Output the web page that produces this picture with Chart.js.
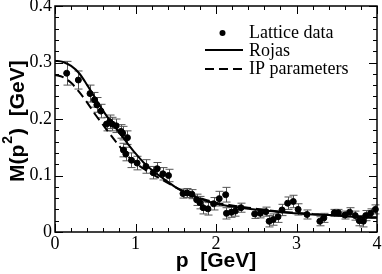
<!DOCTYPE html>
<html>
<head>
<meta charset="utf-8">
<script src="https://cdn.jsdelivr.net/npm/chart.js@4"></script>
<style>
  body { margin: 0; background: #fff; }
  #chart { width: 382px; height: 274px; }
</style>
</head>
<body>
<div id="chart"><canvas id="myChart" width="382" height="274"></canvas></div>
<script>
// lattice points: momentum p, mass M(p^2), error
const latticeP = [0.145, 0.29, 0.435, 0.49, 0.52, 0.57, 0.64, 0.68, 0.71, 0.76, 0.82, 0.84, 0.85, 0.88, 0.90, 0.95,
  1.02, 1.13, 1.22, 1.27, 1.34, 1.41, 1.59, 1.64, 1.70, 1.76, 1.80, 1.84, 1.90, 1.97,
  2.04, 2.12, 2.13, 2.19, 2.24, 2.31, 2.48, 2.55, 2.62, 2.66, 2.71, 2.77, 2.82, 2.89, 2.96,
  3.02, 3.13, 3.29, 3.34, 3.47, 3.52, 3.60, 3.66, 3.73, 3.78, 3.83, 3.86, 3.92, 3.98];
const latticeM = [0.281, 0.269, 0.245, 0.234, 0.225, 0.214, 0.191, 0.195, 0.191, 0.188, 0.178, 0.175, 0.145, 0.138, 0.167, 0.127,
  0.122, 0.116, 0.105, 0.112, 0.103, 0.100, 0.068, 0.069, 0.067, 0.057, 0.052, 0.043, 0.041, 0.050,
  0.059, 0.066, 0.033, 0.035, 0.037, 0.043, 0.032, 0.033, 0.036, 0.019, 0.022, 0.027, 0.039, 0.051, 0.054,
  0.040, 0.031, 0.019, 0.025, 0.034, 0.034, 0.030, 0.035, 0.029, 0.020, 0.019, 0.029, 0.033, 0.040];
const latticeErr = [0.021, 0.016, 0.015, 0.013, 0.013, 0.012, 0.012, 0.012, 0.012, 0.012, 0.012, 0.012, 0.012, 0.012, 0.012, 0.013,
  0.012, 0.012, 0.011, 0.011, 0.011, 0.011, 0.008, 0.008, 0.008, 0.010, 0.011, 0.011, 0.011, 0.011,
  0.013, 0.013, 0.010, 0.009, 0.009, 0.008, 0.008, 0.008, 0.008, 0.010, 0.010, 0.010, 0.010, 0.011, 0.011,
  0.010, 0.008, 0.008, 0.008, 0.006, 0.006, 0.007, 0.008, 0.008, 0.009, 0.010, 0.009, 0.008, 0.008];

// model curves
const curveP = [0, 0.1, 0.2, 0.3, 0.4, 0.5, 0.6, 0.7, 0.8, 0.9, 1.0, 1.1, 1.2, 1.3, 1.4, 1.5, 1.6, 1.7, 1.8, 1.9,
  2.0, 2.2, 2.4, 2.6, 2.8, 3.0, 3.2, 3.4, 3.6, 3.8, 4.0];
const rojasM = [0.303, 0.301, 0.294, 0.281, 0.260, 0.237, 0.214, 0.194, 0.176, 0.157, 0.139, 0.123, 0.110, 0.099, 0.089, 0.079,
  0.071, 0.064, 0.059, 0.054, 0.050, 0.045, 0.041, 0.038, 0.035, 0.033, 0.031, 0.030, 0.028, 0.026, 0.025];
const ipM = [0.278, 0.274, 0.264, 0.248, 0.229, 0.208, 0.189, 0.170, 0.152, 0.135, 0.122, 0.112, 0.103, 0.095, 0.087, 0.079,
  0.072, 0.066, 0.060, 0.056, 0.052, 0.047, 0.043, 0.039, 0.036, 0.034, 0.032, 0.030, 0.029, 0.027, 0.026];

const legendLabels = ['Lattice data', 'Rojas', 'IP parameters'];

function toXY(xs, ys) {
  return xs.map((x, i) => ({ x: x, y: ys[i] }));
}

function isMajor(v, step) {
  const q = v / step;
  return Math.abs(q - Math.round(q)) < 1e-6;
}

// error bars under the points
const errorBars = {
  id: 'errorBars',
  beforeDatasetsDraw(chart) {
    const c = chart.ctx, xs = chart.scales.x, ys = chart.scales.y;
    c.save();
    c.strokeStyle = '#555';
    c.lineWidth = 1;
    latticeP.forEach((p, i) => {
      const px = Math.round(xs.getPixelForValue(p)) + 0.5;
      const top = ys.getPixelForValue(latticeM[i] + latticeErr[i]);
      const bot = ys.getPixelForValue(latticeM[i] - latticeErr[i]);
      c.beginPath();
      c.moveTo(px, top); c.lineTo(px, bot);
      c.moveTo(px - 4, top); c.lineTo(px + 4, top);
      c.moveTo(px - 4, bot); c.lineTo(px + 4, bot);
      c.stroke();
    });
    c.restore();
  }
};

// box, inward ticks, y title and legend
const frame = {
  id: 'frame',
  afterDraw(chart) {
    const c = chart.ctx, a = chart.chartArea;
    c.save();
    c.strokeStyle = '#000';
    c.lineWidth = 1.5;
    c.strokeRect(a.left, a.top, a.right - a.left, a.bottom - a.top);

    c.lineWidth = 1;
    c.beginPath();
    chart.scales.x.ticks.forEach(t => {
      const px = Math.round(chart.scales.x.getPixelForValue(t.value)) + 0.5;
      const len = isMajor(t.value, 1) ? 8 : 4;
      c.moveTo(px, a.bottom); c.lineTo(px, a.bottom - len);
      c.moveTo(px, a.top); c.lineTo(px, a.top + len);
    });
    chart.scales.y.ticks.forEach(t => {
      const py = Math.round(chart.scales.y.getPixelForValue(t.value)) + 0.5;
      const len = isMajor(t.value, 0.1) ? 8 : 4;
      c.moveTo(a.left, py); c.lineTo(a.left + len, py);
      c.moveTo(a.right, py); c.lineTo(a.right - len, py);
    });
    c.stroke();

    // y title with superscript
    c.fillStyle = '#000';
    c.translate(24, 182);
    c.rotate(-Math.PI / 2);
    c.font = 'bold 21px "Liberation Sans"';
    c.textBaseline = 'alphabetic';
    c.textAlign = 'left';
    c.fillText('M(p', 0, 0);
    let w = c.measureText('M(p').width;
    c.font = 'bold 14px "Liberation Sans"';
    c.fillText('2', w + 1, -12);
    w += c.measureText('2').width + 2;
    c.font = 'bold 21px "Liberation Sans"';
    c.fillText(')  [GeV]', w, 0);
    c.restore();

    // legend
    c.save();
    c.fillStyle = '#000';
    c.strokeStyle = '#000';
    c.beginPath();
    c.arc(222.5, 33, 3, 0, Math.PI * 2);
    c.fill();
    c.lineWidth = 2;
    c.beginPath();
    c.moveTo(205, 50); c.lineTo(243, 50);
    c.stroke();
    c.setLineDash([9, 5]);
    c.beginPath();
    c.moveTo(205, 69); c.lineTo(243, 69);
    c.stroke();
    c.setLineDash([]);
    c.font = '18px "Liberation Serif"';
    c.textBaseline = 'alphabetic';
    c.fillText(legendLabels[0], 249, 38);
    c.fillText(legendLabels[1], 249, 55.5);
    c.fillText(legendLabels[2], 249, 74);
    c.restore();
  }
};

const ctx = document.getElementById('myChart');
const myChart = new Chart(ctx, {
  type: 'scatter',
  data: {
    datasets: [
      {
        label: legendLabels[0],
        data: toXY(latticeP, latticeM),
        backgroundColor: '#000',
        borderColor: '#000',
        pointRadius: 3,
        showLine: false,
        clip: false
      },
      {
        label: legendLabels[1],
        data: toXY(curveP, rojasM),
        showLine: true,
        borderColor: '#000',
        borderWidth: 2,
        pointRadius: 0,
        cubicInterpolationMode: 'monotone'
      },
      {
        label: legendLabels[2],
        data: toXY(curveP, ipM),
        showLine: true,
        borderColor: '#000',
        borderWidth: 2,
        borderDash: [9, 5],
        pointRadius: 0,
        cubicInterpolationMode: 'monotone'
      }
    ]
  },
  options: {
    responsive: false,
    animation: false,
    layout: { padding: { top: 6, right: 5, left: 0, bottom: 0 } },
    scales: {
      x: {
        type: 'linear',
        min: 0,
        max: 4,
        afterFit(s) { s.height = 42; s.paddingLeft = 0; s.paddingRight = 0; },
        grid: { display: false, drawTicks: false },
        border: { display: false },
        ticks: {
          stepSize: 0.2,
          autoSkip: false,
          maxRotation: 0,
          padding: 1,
          color: '#000',
          font: { family: '"Liberation Serif"', size: 18 },
          callback: v => isMajor(v, 1) ? String(Math.round(v)) : ''
        },
        title: {
          display: true,
          text: 'p  [GeV]',
          color: '#000',
          font: { family: '"Liberation Sans"', size: 21, weight: 'bold' },
          padding: { top: 0, bottom: 0 }
        }
      },
      y: {
        min: 0,
        max: 0.4,
        afterFit(s) { s.width = 55; s.paddingTop = 0; s.paddingBottom = 0; },
        grid: { display: false, drawTicks: false },
        border: { display: false },
        ticks: {
          stepSize: 0.02,
          autoSkip: false,
          padding: 3,
          color: '#000',
          font: { family: '"Liberation Serif"', size: 18 },
          callback: v => isMajor(v, 0.1) ? (Math.abs(v) < 1e-9 ? '0' : v.toFixed(1)) : ''
        }
      }
    },
    plugins: {
      legend: { display: false },
      tooltip: { enabled: false }
    }
  },
  plugins: [errorBars, frame]
});
</script>
</body>
</html>
